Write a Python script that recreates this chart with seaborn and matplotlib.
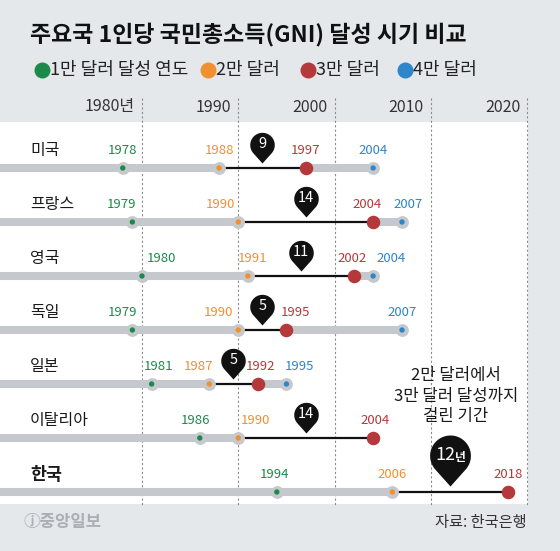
import numpy as np
import pandas as pd
import matplotlib.pyplot as plt
import seaborn as sns
from matplotlib.path import Path
from matplotlib.patches import Rectangle

# data
countries = ['미국', '프랑스', '영국', '독일', '일본', '이탈리아', '한국']
year_10k = [1978, 1979, 1980, 1979, 1981, 1986, 1994]
year_20k = [1988, 1990, 1991, 1990, 1987, 1990, 2006]
year_30k = [1997, 2004, 2002, 1995, 1992, 2004, 2018]
year_40k = [2004, 2007, 2004, 2007, 1995, np.nan, np.nan]
gap_years = [9, 14, 11, 5, 5, 14, 12]

stages = ['1만 달러 달성 연도', '2만 달러', '3만 달러', '4만 달러']
stage_colors = ['#1b8a4b', '#f0902f', '#b5393a', '#2e86c8']
decades = [1980, 1990, 2000, 2010, 2020]

# nudges (px) so the year labels clear the dotted lines
label_dx = [[0, 0, 0, 0], [-11, -18, -6, 6], [19, 5, -2, 18], [-10, -20, 9, 0],
            [7, -11, 3, 13], [-4, 17, 2, 0], [-2, 0, 0, 0]]

# layout in pixels
W, H = 560, 551
PX_YEAR = 9.63          # px per year
X1980 = 142             # px of the 1980 line
ROW0, ROW_STEP = 168, 54


def xd(px):
    return 1980 + (px - X1980) / PX_YEAR


def yd(py):
    return (py - ROW0) / ROW_STEP


sns.set_theme(style='white')
plt.rcParams['font.family'] = ['Noto Sans CJK KR', 'DejaVu Sans']

bg = '#e4e8eb'
gray = '#c5c9cd'
fig = plt.figure(figsize=(W / 100, H / 100), dpi=100)
fig.patch.set_facecolor(bg)
ax = fig.add_axes([0, 0, 1, 1])
ax.set_facecolor(bg)
ax.axis('off')

# white panel
ax.add_patch(Rectangle((xd(0), yd(122)), xd(528) - xd(0), yd(504) - yd(122),
                       facecolor='white', edgecolor='none', zorder=0))

# dotted decade lines + header labels
ax.vlines(decades, yd(98), yd(505), colors='#8c8c8c', linestyles=(0, (2, 2)),
          linewidth=0.8, zorder=1)
for d in decades:
    lab = f'{d}년' if d == 1980 else str(d)
    ax.text(d - 7 / PX_YEAR, yd(107), lab, ha='right', va='center',
            fontsize=11.5, color='#333333')

# long table of milestones
rows = []
for i, c in enumerate(countries):
    for k, arr in enumerate([year_10k, year_20k, year_30k, year_40k]):
        if not np.isnan(arr[i]):
            rows.append(dict(country=c, row=i, year=arr[i], stage=stages[k], k=k))
df = pd.DataFrame(rows)

left = xd(0)
for i in range(len(countries)):
    ax.hlines(i, left, year_20k[i], color=gray, linewidth=5.8, zorder=2)
    if not np.isnan(year_40k[i]):
        ax.hlines(i, year_30k[i], year_40k[i], color=gray, linewidth=5.8, zorder=2)
    ax.hlines(i, year_20k[i], year_30k[i], color='#111111', linewidth=1.6, zorder=2.5)

small = df[df.k != 2]
big = df[df.k == 2]
sns.scatterplot(data=small, x='year', y='row', color=gray, s=85, linewidth=0,
                ax=ax, zorder=3, legend=False)
sns.scatterplot(data=small, x='year', y='row', hue='stage',
                palette=dict(zip(stages, stage_colors)), s=15, linewidth=0,
                ax=ax, zorder=4, legend=False)
sns.scatterplot(data=big, x='year', y='row', color=stage_colors[2], s=95,
                linewidth=0, ax=ax, zorder=6, legend=False)

# year labels
for _, r in df.iterrows():
    i, k = int(r.row), int(r.k)
    ax.text(r.year + label_dx[i][k] / PX_YEAR, i - 17 / ROW_STEP, str(int(r.year)),
            ha='center', va='center', fontsize=9.5, color=stage_colors[k], zorder=7)

# country names
for i, c in enumerate(countries):
    korea = c == '한국'
    ax.text(xd(30), i - 17 / ROW_STEP, c, ha='left', va='center',
            fontsize=12.5 if korea else 11.5,
            fontweight='bold' if korea else 'normal', color='#1a1a1a')

# pin marker: tip at origin, circle above
cc = 1.5
phi = np.arccos(1 / cc)
ang = np.linspace(-np.pi / 2 + phi, 3 * np.pi / 2 - phi, 60)
verts = [(0, 0)] + [(np.cos(a), cc + np.sin(a)) for a in ang] + [(0, 0)]
pin = Path(verts, [Path.MOVETO] + [Path.LINETO] * (len(verts) - 2) + [Path.CLOSEPOLY])

pins = pd.DataFrame(dict(row=range(len(countries)),
                         mid=[(a + b) / 2 for a, b in zip(year_20k, year_30k)],
                         gap=gap_years))
pins['tip'] = pins.row - 5 / ROW_STEP
pins.loc[pins.row == 6, 'tip'] = 6 - 6 / ROW_STEP
sm_pins = pins[pins.row != 6]
kr_pin = pins[pins.row == 6]
sns.scatterplot(data=sm_pins, x='mid', y='tip', marker=pin, s=1950, color='#111111',
                linewidth=0, ax=ax, zorder=8, legend=False)
sns.scatterplot(data=kr_pin, x='mid', y='tip', marker=pin, s=5390, color='#111111',
                linewidth=0, ax=ax, zorder=8, legend=False)
for _, r in sm_pins.iterrows():
    ax.text(r.mid, r.tip - 18.5 / ROW_STEP, str(int(r.gap)), ha='center', va='center',
            fontsize=10.5, color='white', zorder=9)
for _, r in kr_pin.iterrows():
    cy = r.tip - 30.6 / ROW_STEP
    ax.text(r.mid + 5 / PX_YEAR, cy, str(int(r.gap)), ha='right', va='center',
            fontsize=13, color='white', zorder=9)
    ax.text(r.mid + 5 / PX_YEAR, cy + 2 / ROW_STEP, '년', ha='left', va='center',
            fontsize=8.5, color='white', fontweight='bold', zorder=9)

ax.text(xd(456), yd(396), '2만 달러에서\n3만 달러 달성까지\n걸린 기간', ha='center',
        va='center', fontsize=12, linespacing=1.25, color='#1a1a1a', zorder=7)

# title + legend
ax.text(xd(30), yd(35), '주요국 1인당 국민총소득(GNI) 달성 시기 비교', ha='left',
        va='center', fontsize=16.5, fontweight='bold', color='#111111')
leg_x = [42, 208, 308, 405]
for px, name, col in zip(leg_x, stages, stage_colors):
    ax.plot(xd(px), yd(70), 'o', ms=11.5, color=col, mec='none', clip_on=False)
    ax.text(xd(px + 8), yd(70), name, ha='left', va='center', fontsize=13,
            color='#222222')

# footer
ax.text(xd(23), yd(522), 'ⓙ중앙일보', ha='left', va='center', fontsize=12,
        fontweight='bold', color='#a9afb4')
ax.text(xd(527), yd(522), '자료: 한국은행', ha='right', va='center', fontsize=11,
        color='#333333')

ax.set_xlim(xd(0), xd(W))
ax.set_ylim(yd(H), yd(0))

fig.savefig('out.png', dpi=100, facecolor=fig.get_facecolor())
